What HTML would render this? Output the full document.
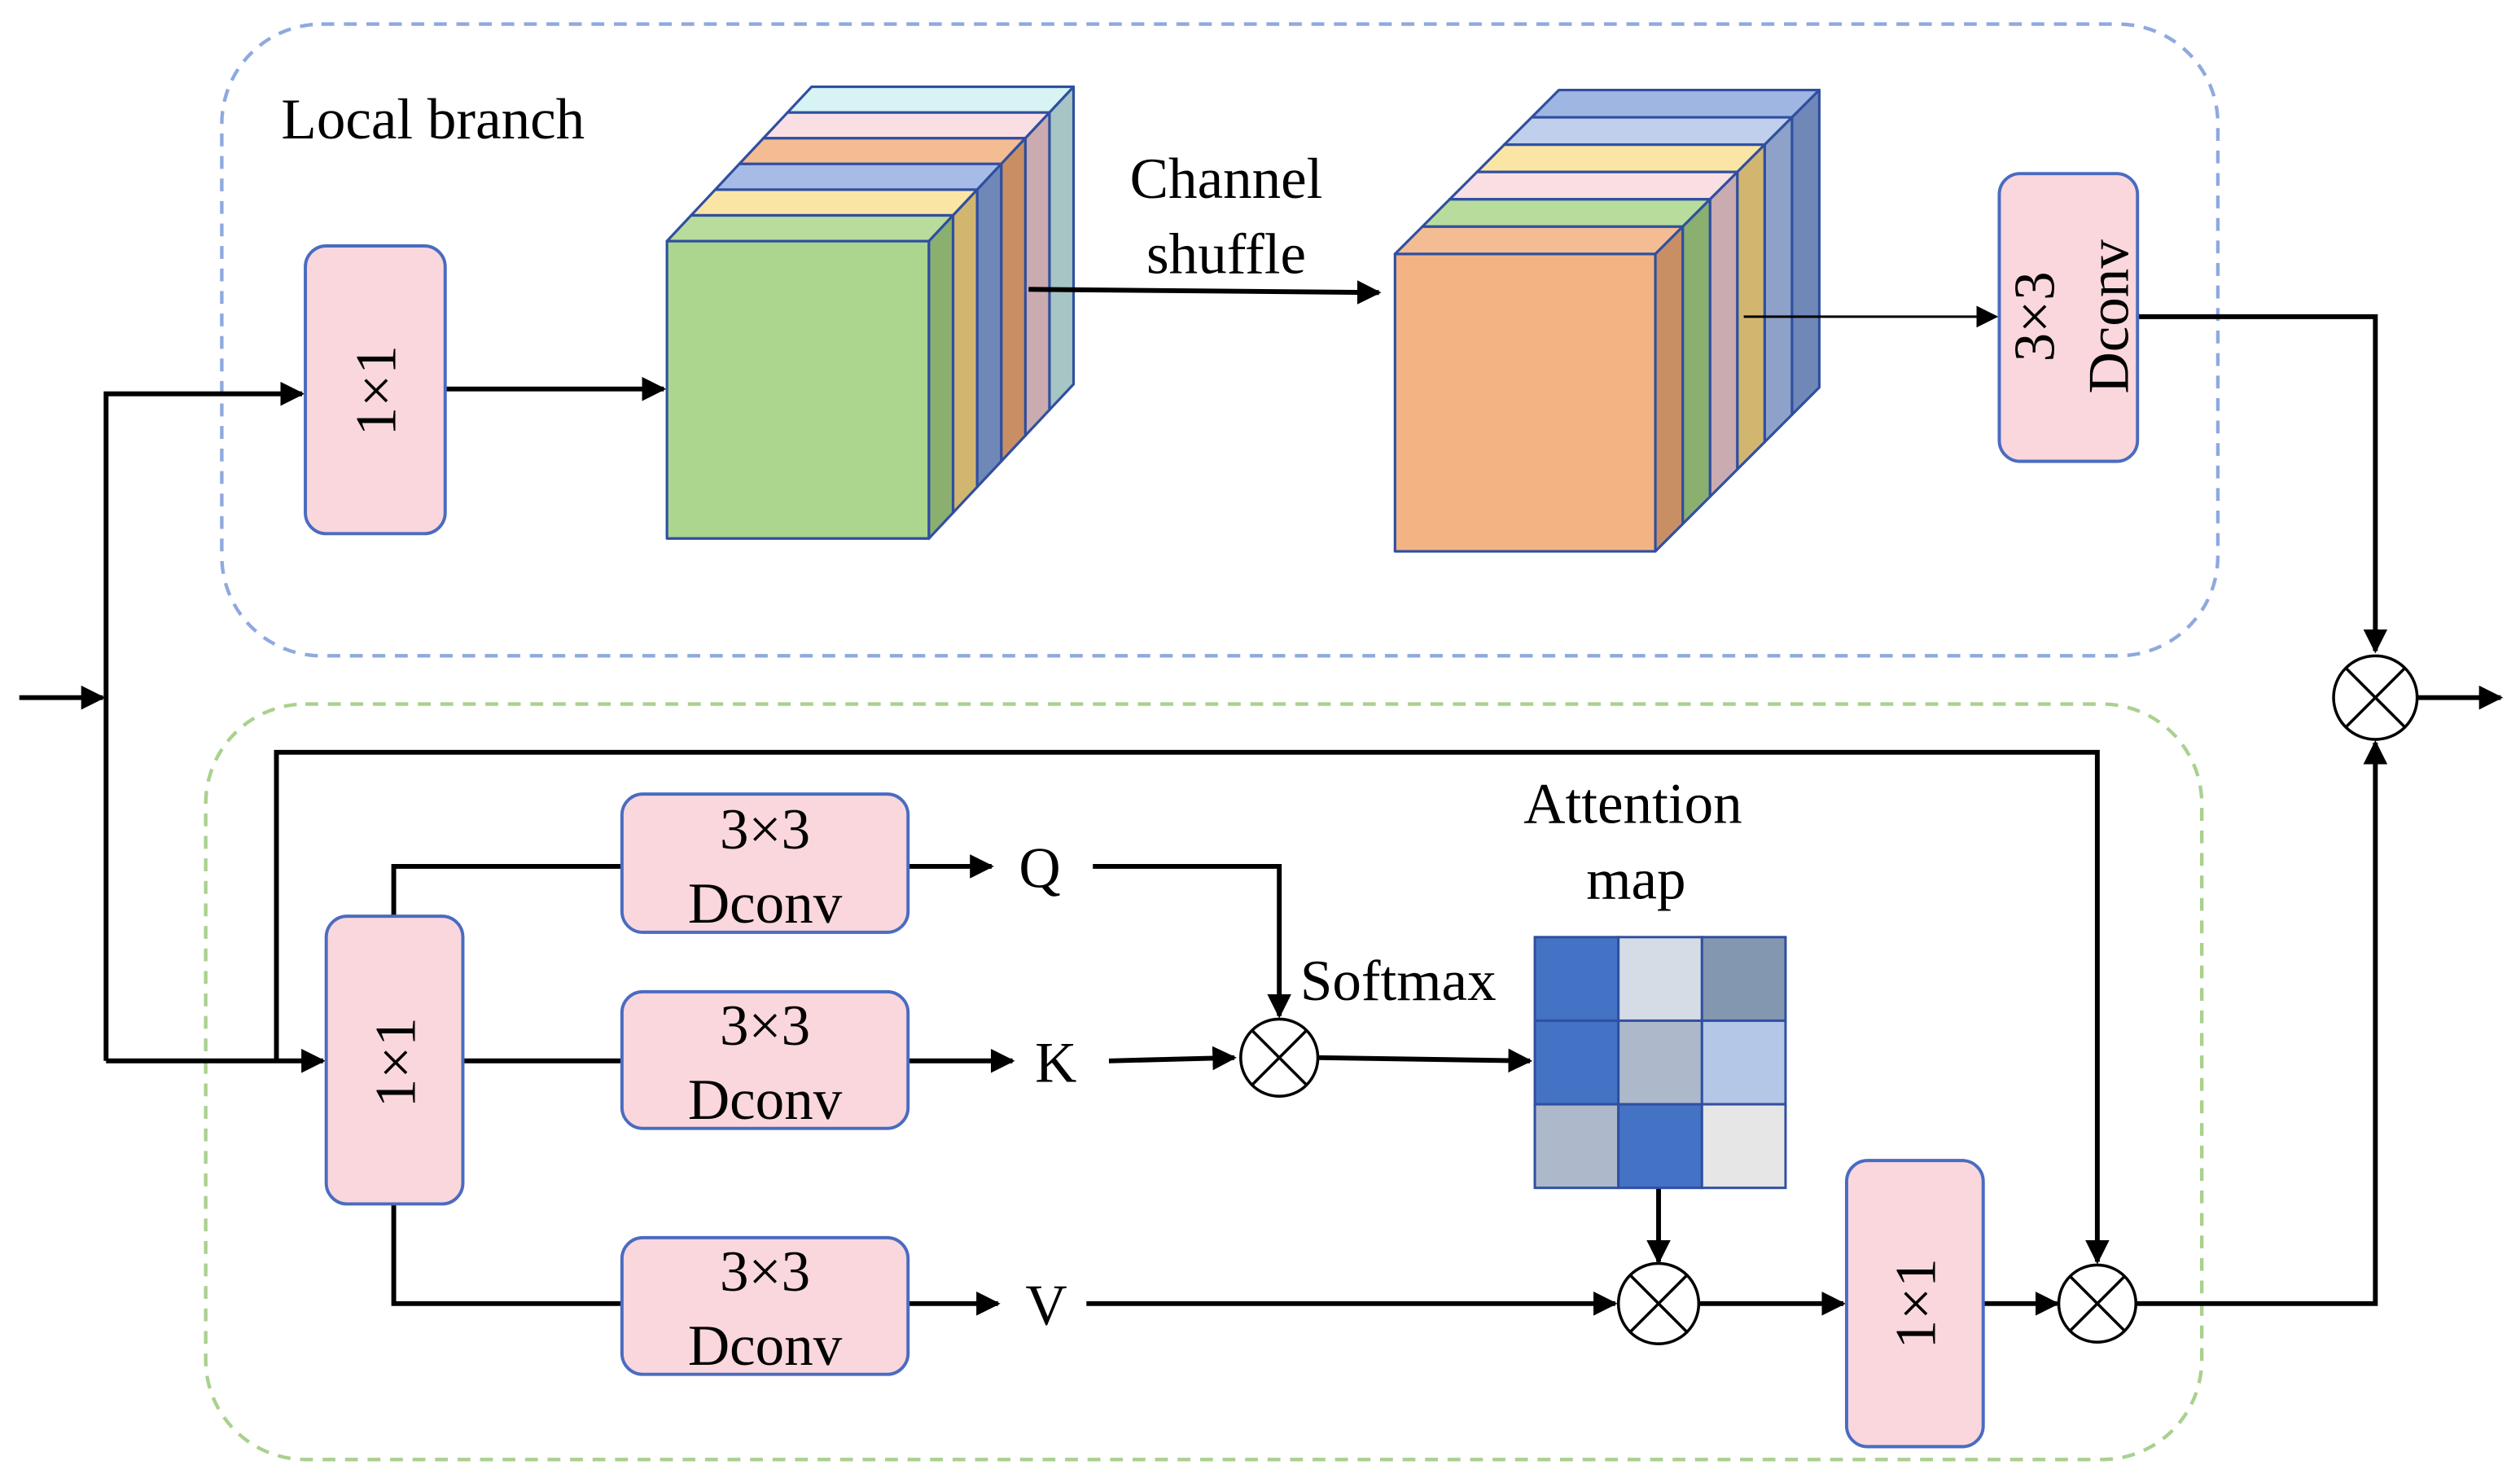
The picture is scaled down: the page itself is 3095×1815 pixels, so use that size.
<!DOCTYPE html>
<html><head><meta charset="utf-8"><style>html,body{margin:0;padding:0;background:#fff}svg{display:block}</style></head>
<body>
<svg width="3095" height="1815" viewBox="0 0 1568 919.5" preserveAspectRatio="none" xmlns="http://www.w3.org/2000/svg" font-family="Liberation Serif, serif">
<defs>
<marker id="a" viewBox="0 0 10 10" refX="9" refY="5" markerWidth="5" markerHeight="5" orient="auto" markerUnits="strokeWidth"><path d="M0,0 L10,5 L0,10 z" fill="#000"/></marker>
<marker id="b" viewBox="0 0 10 10" refX="9" refY="5" markerWidth="9" markerHeight="9" orient="auto" markerUnits="strokeWidth"><path d="M0,0 L10,5 L0,10 z" fill="#000"/></marker>
</defs>
<rect x="138" y="15" width="1242" height="393" rx="62" fill="none" stroke="#8fa9df" stroke-width="2.2" stroke-dasharray="8,6"/>
<rect x="128" y="438" width="1242" height="470" rx="62" fill="none" stroke="#a9d18e" stroke-width="2.2" stroke-dasharray="8,6"/>
<text x="175" y="86" font-size="36">Local branch</text>

<!-- cube1 -->
<g stroke="#2f4fa0" stroke-width="1.6" stroke-linejoin="round">
<rect x="490" y="70" width="163" height="185" fill="#d8f3f3"/>
<polygon points="490,70 505,54 668,54 653,70" fill="#d8f3f3"/>
<polygon points="653,70 668,54 668,239 653,255" fill="#a6c5c4"/>
<rect x="475" y="86" width="163" height="185" fill="#f9dfe3"/>
<polygon points="475,86 490,70 653,70 638,86" fill="#f9dfe3"/>
<polygon points="638,86 653,70 653,255 638,271" fill="#c9abb0"/>
<rect x="460" y="102" width="163" height="185" fill="#f3b383"/>
<polygon points="460,102 475,86 638,86 623,102" fill="#f3bc92"/>
<polygon points="623,102 638,86 638,271 623,287" fill="#c88f65"/>
<rect x="445" y="118" width="163" height="185" fill="#a6bce6"/>
<polygon points="445,118 460,102 623,102 608,118" fill="#a6bce6"/>
<polygon points="608,118 623,102 623,287 608,303" fill="#7088b8"/>
<rect x="430" y="134" width="163" height="185" fill="#fbe0a0"/>
<polygon points="430,134 445,118 608,118 593,134" fill="#fbe5a5"/>
<polygon points="593,134 608,118 608,303 593,319" fill="#d2b670"/>
<rect x="415" y="150" width="163" height="185" fill="#acd68e"/>
<polygon points="415,150 430,134 593,134 578,150" fill="#b8dc9c"/>
<polygon points="578,150 593,134 593,319 578,335" fill="#8aaf6e"/>
</g>
<!-- cube2 -->
<g stroke="#2f4fa0" stroke-width="1.6" stroke-linejoin="round">
<rect x="953" y="73" width="162" height="185" fill="#9fb6e3"/>
<polygon points="953,73 970,56 1132,56 1115,73" fill="#9fb6e3"/>
<polygon points="1115,73 1132,56 1132,241 1115,258" fill="#6f88b8"/>
<rect x="936" y="90" width="162" height="185" fill="#c0cfeb"/>
<polygon points="936,90 953,73 1115,73 1098,90" fill="#c0cfeb"/>
<polygon points="1098,90 1115,73 1115,258 1098,275" fill="#8ea2c9"/>
<rect x="919" y="107" width="162" height="185" fill="#fbe0a0"/>
<polygon points="919,107 936,90 1098,90 1081,107" fill="#fbe5a5"/>
<polygon points="1081,107 1098,90 1098,275 1081,292" fill="#d2b670"/>
<rect x="902" y="124" width="162" height="185" fill="#f9dfe3"/>
<polygon points="902,124 919,107 1081,107 1064,124" fill="#f9dfe3"/>
<polygon points="1064,124 1081,107 1081,292 1064,309" fill="#c9abb0"/>
<rect x="885" y="141" width="162" height="185" fill="#acd68e"/>
<polygon points="885,141 902,124 1064,124 1047,141" fill="#b8dc9c"/>
<polygon points="1047,141 1064,124 1064,309 1047,326" fill="#8aaf6e"/>
<rect x="868" y="158" width="162" height="185" fill="#f3b383"/>
<polygon points="868,158 885,141 1047,141 1030,158" fill="#f3bc92"/>
<polygon points="1030,158 1047,141 1047,326 1030,343" fill="#c88f65"/>
</g>

<g fill="none" stroke="#000" stroke-width="3">
<polyline points="12,434 64,434" marker-end="url(#a)"/>
<polyline points="66,660 66,245 188,245" marker-end="url(#a)"/>
<polyline points="277,242 413,242" marker-end="url(#a)"/>
<polyline points="640,180 858,182" marker-end="url(#a)"/>
<polyline points="1085,197 1242,197" stroke-width="1.5" marker-end="url(#b)"/>
<polyline points="1330,197 1478,197 1478,405" marker-end="url(#a)"/>
<polyline points="1504,434 1556,434" marker-end="url(#a)"/>
<polyline points="66,660 201,660" marker-end="url(#a)"/>
<polyline points="172,660 172,468 1305,468 1305,785" marker-end="url(#a)"/>
<polyline points="288,660 387,660"/>
<polyline points="245,570 245,539 387,539"/>
<polyline points="245,749 245,811 387,811"/>
<polyline points="565,539 617,539" marker-end="url(#a)"/>
<polyline points="680,539 796,539 796,632" marker-end="url(#a)"/>
<polyline points="565,660 630,660" marker-end="url(#a)"/>
<polyline points="690,660 768,658" marker-end="url(#a)"/>
<polyline points="820,658 952,660" marker-end="url(#a)"/>
<polyline points="1032,739 1032,785" marker-end="url(#a)"/>
<polyline points="565,811 621,811" marker-end="url(#a)"/>
<polyline points="676,811 1005,811" marker-end="url(#a)"/>
<polyline points="1057,811 1147,811" marker-end="url(#a)"/>
<polyline points="1234,811 1280,811" marker-end="url(#a)"/>
<polyline points="1329,811 1478,811 1478,462" marker-end="url(#a)"/>
</g>

<g fill="#f9d7dc" stroke="#4a6bc0" stroke-width="2">
<rect x="190" y="153" width="87" height="179" rx="13"/>
<rect x="1244" y="108" width="86" height="179" rx="13"/>
<rect x="203" y="570" width="85" height="179" rx="13"/>
<rect x="1149" y="722" width="85" height="178" rx="13"/>
<rect x="387" y="494" width="178" height="86" rx="13"/>
<rect x="387" y="617" width="178" height="85" rx="13"/>
<rect x="387" y="770" width="178" height="85" rx="13"/>
</g>
<g font-size="36" text-anchor="middle">
<text transform="translate(246,243) rotate(-90)">1×1</text>
<text transform="translate(258,661) rotate(-90)">1×1</text>
<text transform="translate(1204,811) rotate(-90)">1×1</text>
<text transform="translate(1278,197) rotate(-90)">3×3</text>
<text transform="translate(1324,197) rotate(-90)">Dconv</text>
<text x="476" y="528">3×3</text><text x="476" y="574">Dconv</text>
<text x="476" y="650">3×3</text><text x="476" y="696">Dconv</text>
<text x="476" y="803">3×3</text><text x="476" y="849">Dconv</text>
<text x="763" y="123">Channel</text><text x="763" y="170">shuffle</text>
<text x="1016" y="512">Attention</text><text x="1018" y="559">map</text>
<text x="647" y="552">Q</text><text x="657" y="673">K</text><text x="651" y="824">V</text>
<text x="870" y="622">Softmax</text>
</g>

<g stroke="#2f4fa0" stroke-width="1.5">
<rect x="955" y="583" width="52" height="52" fill="#4472c4"/>
<rect x="1007" y="583" width="52" height="52" fill="#d6dce5"/>
<rect x="1059" y="583" width="52" height="52" fill="#8497b0"/>
<rect x="955" y="635" width="52" height="52" fill="#4472c4"/>
<rect x="1007" y="635" width="52" height="52" fill="#adb9ca"/>
<rect x="1059" y="635" width="52" height="52" fill="#b4c7e7"/>
<rect x="955" y="687" width="52" height="52" fill="#adb9ca"/>
<rect x="1007" y="687" width="52" height="52" fill="#4472c4"/>
<rect x="1059" y="687" width="52" height="52" fill="#e7e6e6"/>
</g>

<g fill="#fff" stroke="#000" stroke-width="1.8">
<circle cx="1478" cy="434" r="26"/><path d="M1460,416 L1496,452 M1496,416 L1460,452"/>
<circle cx="796" cy="658" r="24"/><path d="M779,641 L813,675 M813,641 L779,675"/>
<circle cx="1032" cy="811" r="25"/><path d="M1014,793 L1050,829 M1050,793 L1014,829"/>
<circle cx="1305" cy="811" r="24"/><path d="M1288,794 L1322,828 M1322,794 L1288,828"/>
</g>
</svg>
</body></html>
